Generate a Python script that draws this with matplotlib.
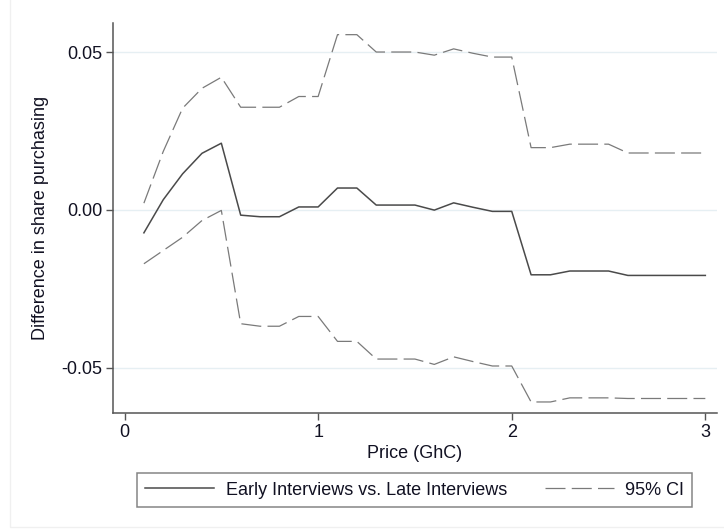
import numpy as np
import matplotlib
matplotlib.use('Agg')
import matplotlib.pyplot as plt
from matplotlib.patches import Rectangle

price = [0.1, 0.2, 0.3, 0.4, 0.5, 0.6, 0.7, 0.8, 0.9, 1.0,
         1.1, 1.2, 1.3, 1.4, 1.5, 1.6, 1.7, 1.8, 1.9, 2.0,
         2.1, 2.2, 2.3, 2.4, 2.5, 2.6, 2.7, 2.8, 2.9, 3.0]
diff = [-0.0073, 0.0032, 0.0114, 0.0179, 0.0211, -0.0017, -0.0022, -0.0022, 0.0009, 0.0009,
        0.0069, 0.0069, 0.0015, 0.0015, 0.0015, -0.0001, 0.0022, 0.0008, -0.0005, -0.0005,
        -0.0206, -0.0206, -0.0194, -0.0194, -0.0194, -0.0208, -0.0208, -0.0208, -0.0208, -0.0208]
upper = [0.0021, 0.0185, 0.0322, 0.0385, 0.042, 0.0325, 0.0325, 0.0325, 0.0359, 0.0359,
         0.0555, 0.0555, 0.050, 0.050, 0.050, 0.049, 0.051, 0.0496, 0.0484, 0.0484,
         0.0197, 0.0197, 0.0208, 0.0208, 0.0208, 0.018, 0.018, 0.018, 0.018, 0.018]
lower = [-0.0171, -0.0129, -0.0087, -0.0034, -0.0002, -0.0361, -0.0369, -0.0369, -0.0338, -0.0338,
         -0.0417, -0.0417, -0.0473, -0.0473, -0.0473, -0.049, -0.0466, -0.0481, -0.0495, -0.0495,
         -0.0609, -0.0609, -0.0596, -0.0596, -0.0596, -0.0598, -0.0598, -0.0598, -0.0598, -0.0598]

yticks = [-0.05, 0.0, 0.05]
ytick_labels = ['-0.05', '0.00', '0.05']
xticks = [0, 1, 2, 3]

plt.rcParams['font.family'] = ['Liberation Sans', 'DejaVu Sans']
fs = 13

fig = plt.figure(figsize=(7.24, 5.31), dpi=100)
ax = fig.add_axes([0.1565, 0.2228, 0.8335, 0.7345])

# faint outer frame like the stata graph region
fig.patches.append(Rectangle((10 / 724, 4 / 531), 1.0, 1.0, transform=fig.transFigure,
                             fill=False, edgecolor='#f0f0f0', lw=1))

text_col = '#111122'
dash = (0, (16, 5))
ax.plot(price, diff, color='#4a4a4a', lw=1.1, label='Early Interviews vs. Late Interviews')
ax.plot(price, upper, color='#7a7a7a', lw=0.9, linestyle=dash, label='95% CI')
ax.plot(price, lower, color='#7a7a7a', lw=0.9, linestyle=dash)

ax.set_xlim(-0.058, 3.059)
ax.set_ylim(-0.0643, 0.0593)
ax.set_yticks(yticks)
ax.set_yticklabels(ytick_labels)
ax.set_xticks(xticks)
for y in yticks:
    ax.axhline(y, color='#e6eff3', lw=1, zorder=0)

for s in ['top', 'right']:
    ax.spines[s].set_visible(False)
for s in ['left', 'bottom']:
    ax.spines[s].set_color('#555555')
    ax.spines[s].set_linewidth(1.1)
ax.tick_params(direction='out', length=5, width=1, color='#555555',
               labelcolor=text_col, labelsize=fs, pad=3)

ax.set_xlabel('Price (GhC)', color=text_col, fontsize=fs, labelpad=3)
ax.set_ylabel('Difference in share purchasing', color=text_col, fontsize=fs, labelpad=9)

leg = fig.legend(loc='center', bbox_to_anchor=(0.573, 0.0772), ncol=2,
                 handlelength=3.8, handletextpad=0.65, columnspacing=2.1,
                 borderpad=0.45, fancybox=False, fontsize=fs)
leg.get_frame().set_edgecolor('#666666')
leg.get_frame().set_linewidth(1.1)
for t in leg.get_texts():
    t.set_color(text_col)

plt.savefig('out.png', dpi=100)
